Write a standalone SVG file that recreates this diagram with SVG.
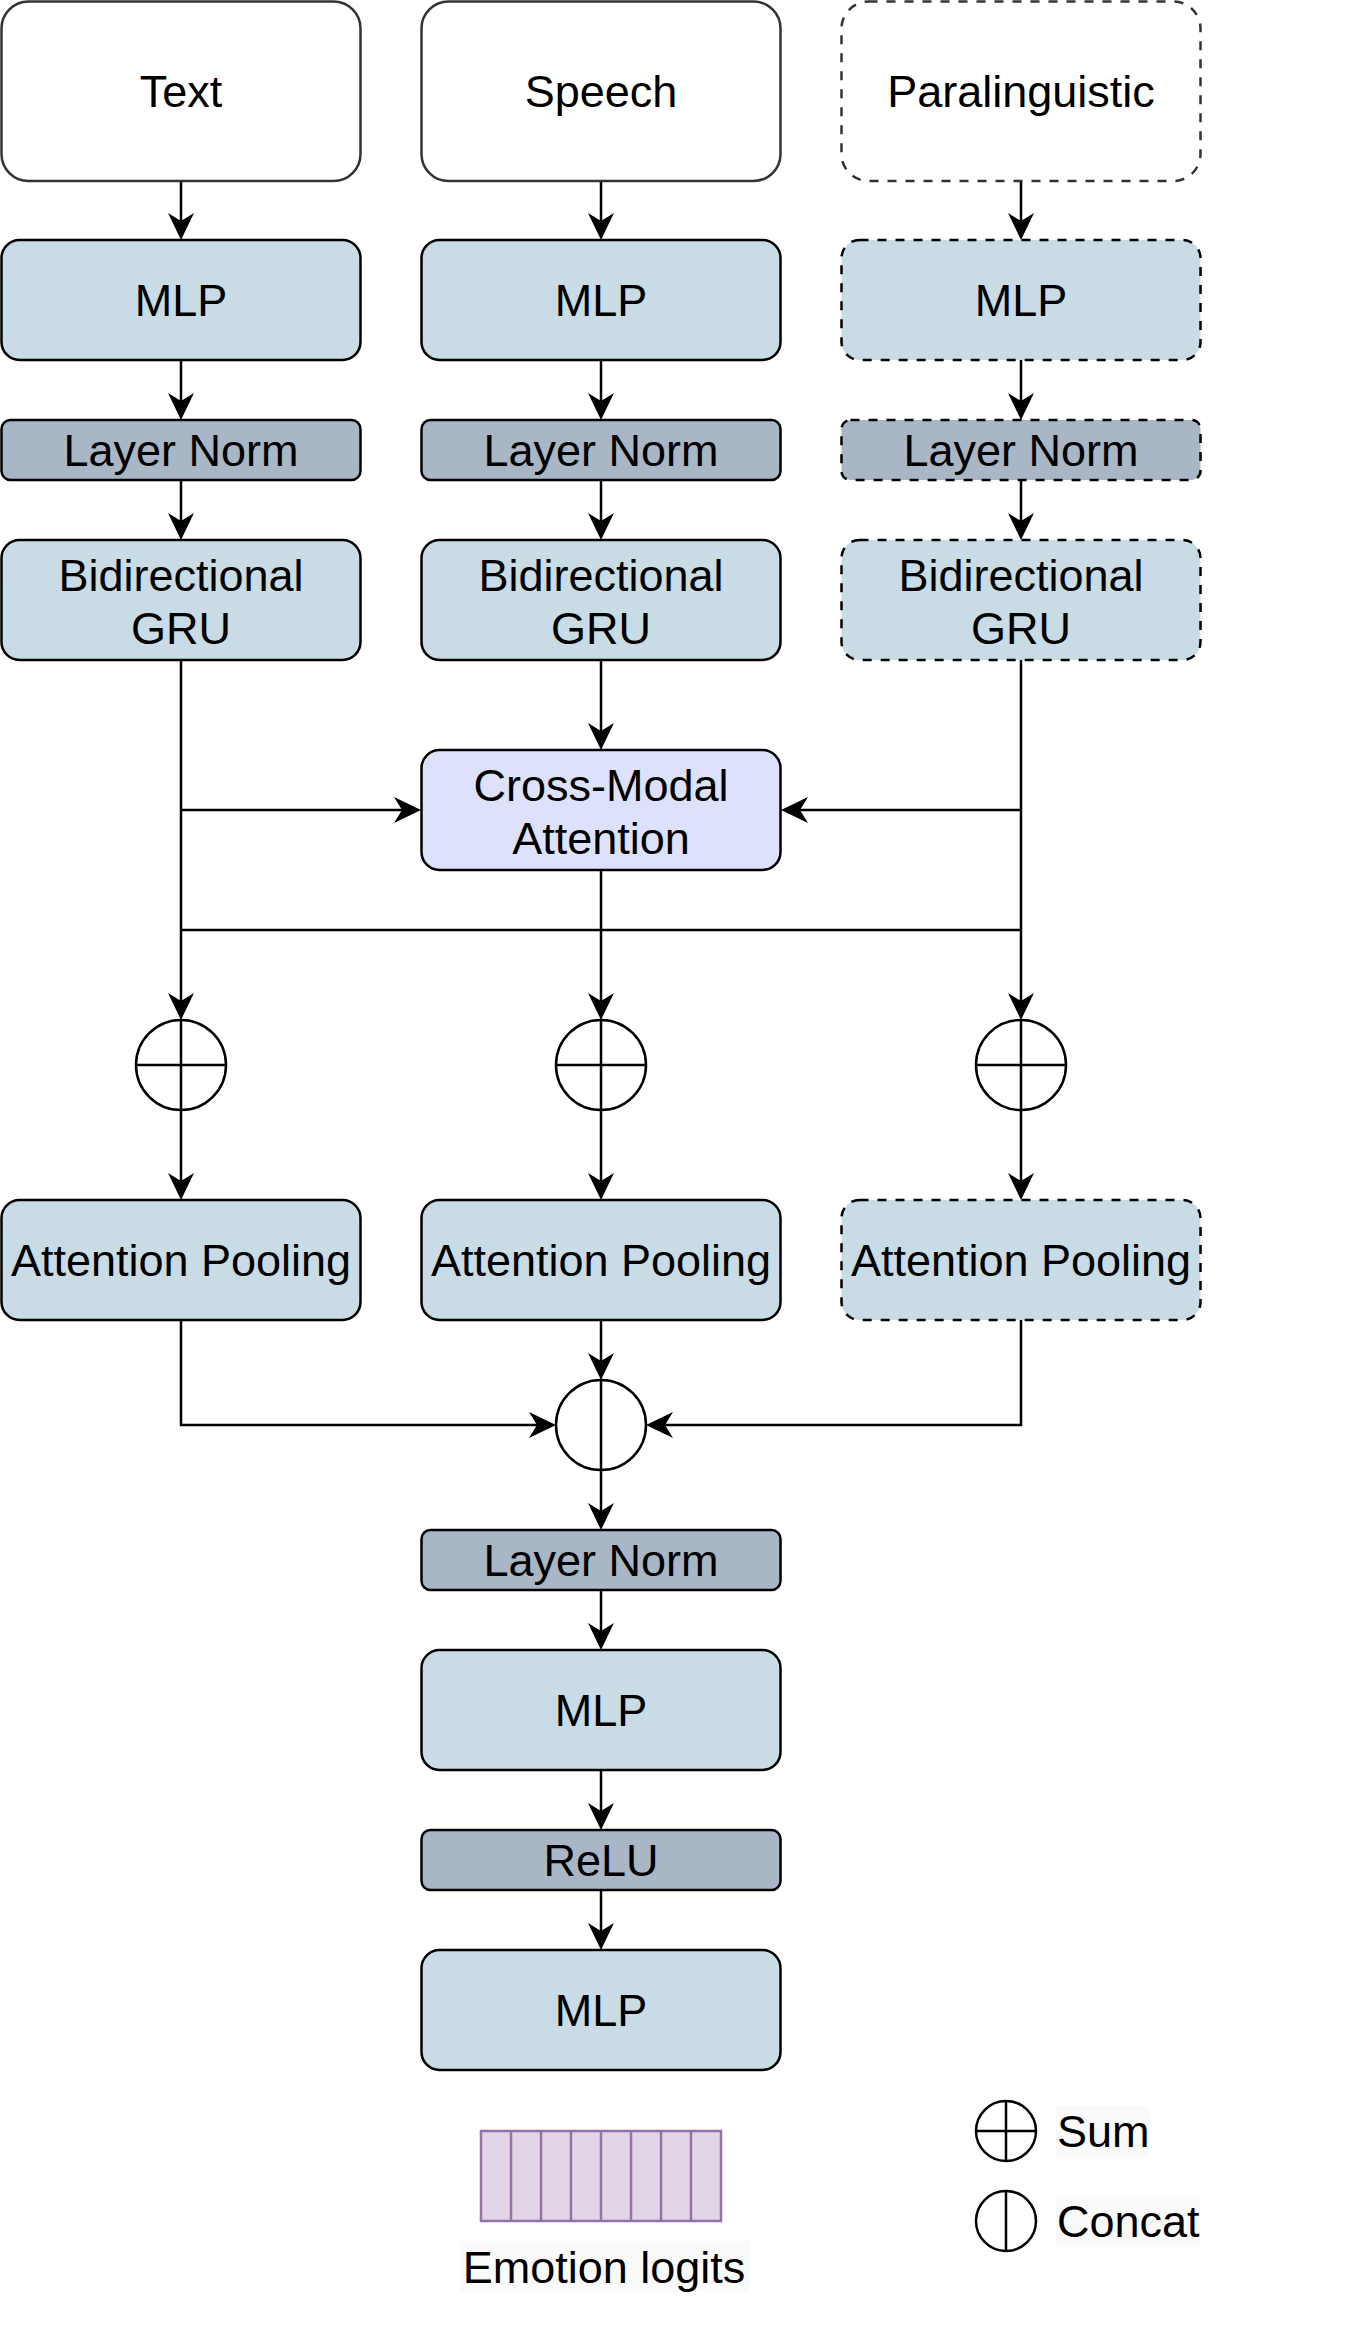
<svg xmlns="http://www.w3.org/2000/svg" width="1368" height="2343" viewBox="0 0 1368 2343">
<style>
text{font-family:"Liberation Sans",Arial,Helvetica,sans-serif;font-size:45px;fill:#000;text-anchor:middle}
.in{fill:#fff;stroke:#333;stroke-width:2.5}
.mlp{fill:#c9dbe4;stroke:#000;stroke-width:2.5}
.ln{fill:#a8b6c6;stroke:#000;stroke-width:2.5}
.cm{fill:#dde1fc;stroke:#000;stroke-width:2.5}
.dash{stroke-dasharray:9 9}
.op{fill:#fff;stroke:#000;stroke-width:2.5}
.opl{stroke:#000;stroke-width:2.5;fill:none}
.c{fill:none;stroke:#000;stroke-width:2.5}
.lg{fill:#fafafa}
</style>
<defs>
<marker id="ar" markerUnits="userSpaceOnUse" viewBox="-20 -15 34 30" markerWidth="34" markerHeight="30" refX="0" refY="0" orient="auto" overflow="visible">
<path d="M8,0 L-19,-13 L-11,0 L-19,13 Z" fill="#000"/>
</marker>
</defs>
<rect width="1368" height="2343" fill="#fff"/>

<g id="connectors">
<path class="c" d="M181,181V232" marker-end="url(#ar)"/>
<path class="c" d="M601,181V232" marker-end="url(#ar)"/>
<path class="c" d="M1021,181V232" marker-end="url(#ar)"/>
<path class="c" d="M181,360V412" marker-end="url(#ar)"/>
<path class="c" d="M601,360V412" marker-end="url(#ar)"/>
<path class="c" d="M1021,360V412" marker-end="url(#ar)"/>
<path class="c" d="M181,480V532" marker-end="url(#ar)"/>
<path class="c" d="M601,480V532" marker-end="url(#ar)"/>
<path class="c" d="M1021,480V532" marker-end="url(#ar)"/>
<path class="c" d="M601,660V742" marker-end="url(#ar)"/>
<path class="c" d="M181,660V1012" marker-end="url(#ar)"/>
<path class="c" d="M1021,660V1012" marker-end="url(#ar)"/>
<path class="c" d="M181,810H413" marker-end="url(#ar)"/>
<path class="c" d="M1021,810H789" marker-end="url(#ar)"/>
<path class="c" d="M601,870V1012" marker-end="url(#ar)"/>
<path class="c" d="M181,930H1021"/>
<path class="c" d="M181,1110V1192" marker-end="url(#ar)"/>
<path class="c" d="M601,1110V1192" marker-end="url(#ar)"/>
<path class="c" d="M1021,1110V1192" marker-end="url(#ar)"/>
<path class="c" d="M601,1320V1372" marker-end="url(#ar)"/>
<path class="c" d="M181,1320V1425H548" marker-end="url(#ar)"/>
<path class="c" d="M1021,1320V1425H654" marker-end="url(#ar)"/>
<path class="c" d="M601,1470V1522" marker-end="url(#ar)"/>
<path class="c" d="M601,1590V1642" marker-end="url(#ar)"/>
<path class="c" d="M601,1770V1822" marker-end="url(#ar)"/>
<path class="c" d="M601,1890V1942" marker-end="url(#ar)"/>
</g>

<g id="text-input"><rect class="in" x="1.5" y="1.5" width="359" height="179.5" rx="27"/><text x="181" y="107">Text</text></g>
<g id="speech-input"><rect class="in" x="421.5" y="1.5" width="359" height="179.5" rx="27"/><text x="601" y="107">Speech</text></g>
<g id="para-input"><rect class="in dash" x="841.5" y="1.5" width="359" height="179.5" rx="27"/><text x="1021" y="107">Paralinguistic</text></g>

<g id="text-mlp"><rect class="mlp" x="1.5" y="240" width="359" height="120" rx="18"/><text x="181" y="316">MLP</text></g>
<g id="speech-mlp"><rect class="mlp" x="421.5" y="240" width="359" height="120" rx="18"/><text x="601" y="316">MLP</text></g>
<g id="para-mlp"><rect class="mlp dash" x="841.5" y="240" width="359" height="120" rx="18"/><text x="1021" y="316">MLP</text></g>

<g id="text-ln"><rect class="ln" x="1.5" y="420" width="359" height="60" rx="9"/><text x="181" y="466">Layer Norm</text></g>
<g id="speech-ln"><rect class="ln" x="421.5" y="420" width="359" height="60" rx="9"/><text x="601" y="466">Layer Norm</text></g>
<g id="para-ln"><rect class="ln dash" x="841.5" y="420" width="359" height="60" rx="9"/><text x="1021" y="466">Layer Norm</text></g>

<g id="text-gru"><rect class="mlp" x="1.5" y="540" width="359" height="120" rx="18"/><text x="181" y="591">Bidirectional</text><text x="181" y="644">GRU</text></g>
<g id="speech-gru"><rect class="mlp" x="421.5" y="540" width="359" height="120" rx="18"/><text x="601" y="591">Bidirectional</text><text x="601" y="644">GRU</text></g>
<g id="para-gru"><rect class="mlp dash" x="841.5" y="540" width="359" height="120" rx="18"/><text x="1021" y="591">Bidirectional</text><text x="1021" y="644">GRU</text></g>

<g id="cross-modal"><rect class="cm" x="421.5" y="750" width="359" height="120" rx="18"/><text x="601" y="801">Cross-Modal</text><text x="601" y="854">Attention</text></g>

<g id="sum-text"><circle class="op" cx="181" cy="1065" r="45"/><path class="opl" d="M136,1065H226M181,1020V1110"/></g>
<g id="sum-speech"><circle class="op" cx="601" cy="1065" r="45"/><path class="opl" d="M556,1065H646M601,1020V1110"/></g>
<g id="sum-para"><circle class="op" cx="1021" cy="1065" r="45"/><path class="opl" d="M976,1065H1066M1021,1020V1110"/></g>

<g id="text-pool"><rect class="mlp" x="1.5" y="1200" width="359" height="120" rx="18"/><text x="181" y="1276">Attention Pooling</text></g>
<g id="speech-pool"><rect class="mlp" x="421.5" y="1200" width="359" height="120" rx="18"/><text x="601" y="1276">Attention Pooling</text></g>
<g id="para-pool"><rect class="mlp dash" x="841.5" y="1200" width="359" height="120" rx="18"/><text x="1021" y="1276">Attention Pooling</text></g>

<g id="concat"><circle class="op" cx="601" cy="1425" r="45"/><path class="opl" d="M601,1380V1470"/></g>

<g id="fusion-ln"><rect class="ln" x="421.5" y="1530" width="359" height="60" rx="9"/><text x="601" y="1576">Layer Norm</text></g>
<g id="fusion-mlp1"><rect class="mlp" x="421.5" y="1650" width="359" height="120" rx="18"/><text x="601" y="1726">MLP</text></g>
<g id="relu"><rect class="ln" x="421.5" y="1830" width="359" height="60" rx="9"/><text x="601" y="1876">ReLU</text></g>
<g id="fusion-mlp2"><rect class="mlp" x="421.5" y="1950" width="359" height="120" rx="18"/><text x="601" y="2026">MLP</text></g>

<g id="emotion-logits">
<rect x="481" y="2131" width="240" height="90" fill="#e1d5e7" stroke="#9673a6" stroke-width="2.5"/>
<path d="M511,2131V2221M541,2131V2221M571,2131V2221M601,2131V2221M631,2131V2221M661,2131V2221M691,2131V2221" stroke="#9673a6" stroke-width="2.5" fill="none"/>
<rect class="lg" x="460" y="2241" width="289" height="51"/>
<text x="604" y="2283">Emotion logits</text>
</g>

<g id="legend-sum"><circle class="op" cx="1006" cy="2131" r="30"/><path class="opl" d="M976,2131H1036M1006,2101V2161"/><rect class="lg" x="1056" y="2106" width="93" height="51"/><text x="1057" y="2147" style="text-anchor:start">Sum</text></g>
<g id="legend-concat"><circle class="op" cx="1006" cy="2221" r="30"/><path class="opl" d="M1006,2191V2251"/><rect class="lg" x="1056" y="2196" width="144" height="51"/><text x="1057" y="2237" style="text-anchor:start">Concat</text></g>
</svg>
